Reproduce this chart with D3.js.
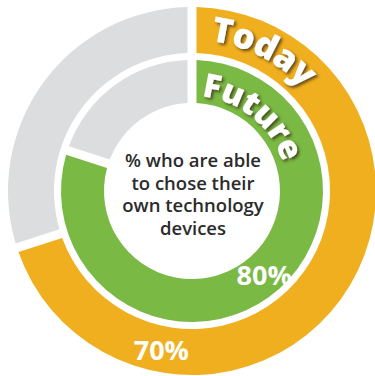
<!DOCTYPE html>
<html lang="en">
<head>
    <meta charset="UTF-8">
    <title>% who are able to chose their own technology devices</title>
    <script src="https://d3js.org/d3.v7.min.js"></script>
    <style>
        body {
            margin: 0;
            padding: 0;
            background: #fff;
            font-family: 'Open Sans', sans-serif;
        }
        .ring-label {
            font-weight: 800;
            fill: #fff;
            letter-spacing: -0.5px;
            filter: url(#shadow);
        }
        .pct {
            font-weight: 700;
            font-size: 27px;
            fill: #fff;
        }
        .center-text {
            font-size: 18.5px;
            font-weight: 600;
            fill: #2b2b2b;
        }
    </style>
</head>
<body>
    <div id="chart"></div>
    <script>
        const series = ["Today", "Future"];
        const values = [70, 80];
        const labels = ["70%", "80%"];
        const centerLines = ["% who are able", "to chose their", "own technology", "devices"];

        const width = 375, height = 376;
        const cx = 192, cy = 191;

        // ring geometry: outer = Today, inner = Future
        const rings = [
            { inner: 138, outer: 184, color: "#F0AF1F", textR: 151, textStart: 0.12, size: 35, labelAngle: 191, labelR: 161 },
            { inner: 88, outer: 131, color: "#7AB944", textR: 95, textStart: 0.10, size: 33, labelAngle: 139, labelR: 110 }
        ];

        const svg = d3.select("#chart").append("svg")
            .attr("width", width)
            .attr("height", height);

        const defs = svg.append("defs");
        const shadow = defs.append("filter").attr("id", "shadow")
            .attr("x", "-20%").attr("y", "-20%").attr("width", "140%").attr("height", "140%");
        shadow.append("feDropShadow")
            .attr("dx", 2).attr("dy", 2).attr("stdDeviation", 1.5)
            .attr("flood-color", "#3a2a10").attr("flood-opacity", 0.75);

        const g = svg.append("g").attr("transform", `translate(${cx},${cy})`);

        const pie = d3.pie().sort(null).value(d => d);

        series.forEach((name, i) => {
            const r = rings[i];
            const arc = d3.arc()
                .innerRadius(r.inner)
                .outerRadius(r.outer)
                .padAngle(0.09)
                .padRadius(100);

            const slices = pie([values[i], 100 - values[i]]);
            g.selectAll(null)
                .data(slices)
                .enter()
                .append("path")
                .attr("d", arc)
                .attr("fill", (d, j) => j === 0 ? r.color : "#DCDDDE");

            // path for curved series name
            const pathId = "tp" + i;
            const tr = r.textR;
            defs.append("path")
                .attr("id", pathId)
                .attr("d", `M0,${-tr} A${tr},${tr} 0 1,1 0,${tr} A${tr},${tr} 0 1,1 0,${-tr}`);
            g.append("text")
                .attr("class", "ring-label")
                .style("font-size", r.size + "px")
                .append("textPath")
                .attr("href", "#" + pathId)
                .attr("startOffset", r.textStart * tr)
                .text(name);

            // percentage label
            const a = r.labelAngle * Math.PI / 180;
            const pos = d3.arc().innerRadius(r.labelR).outerRadius(r.labelR)
                .centroid({ startAngle: a, endAngle: a });
            g.append("text")
                .attr("class", "pct")
                .attr("x", pos[0])
                .attr("y", pos[1])
                .attr("text-anchor", "middle")
                .attr("dominant-baseline", "central")
                .text(labels[i]);
        });

        // center white circle text
        g.selectAll(".center-text")
            .data(centerLines)
            .enter()
            .append("text")
            .attr("class", "center-text")
            .attr("text-anchor", "middle")
            .attr("x", 1)
            .attr("y", (d, k) => -24 + k * 22.7)
            .text(d => d);
    </script>
</body>
</html>
